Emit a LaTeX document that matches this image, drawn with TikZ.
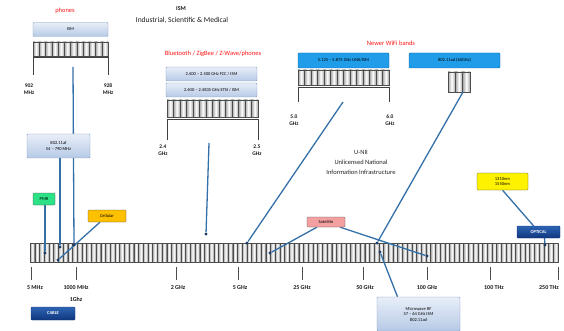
\documentclass[tikz,border=0pt]{standalone}
\usepackage{fontspec}
\setmainfont{Carlito}
\usetikzlibrary{positioning}
\pgfdeclarelayer{bg}
\pgfsetlayers{bg,main}
\definecolor{linkblue}{RGB}{52,112,168}
\definecolor{dotblue}{RGB}{25,60,105}
\definecolor{paletop}{RGB}{232,238,248}
\definecolor{palebot}{RGB}{182,202,230}
\definecolor{paleedge}{RGB}{130,155,195}
\definecolor{wifiblue}{RGB}{32,156,232}
\definecolor{wifiedge}{RGB}{20,105,175}
\definecolor{navytop}{RGB}{45,100,180}
\definecolor{navybot}{RGB}{15,55,125}
\definecolor{pmrgreen}{RGB}{45,225,135}
\definecolor{cellorange}{RGB}{255,192,0}
\definecolor{satpink}{RGB}{245,160,160}
\definecolor{titlered}{RGB}{250,20,20}

\begin{document}
\begin{tikzpicture}[x=1pt, y=-1pt,
	cellbar/.style={draw=gray!60!black, line width=0.4pt, left color=gray!70, right color=gray!70, middle color=white},
	bracket/.style={draw=gray!50!black, line width=0.6pt},
	link/.style={linkblue, line width=1.3pt},
	dot/.style={circle, fill=dotblue, inner sep=0pt, minimum size=3.4pt},
	box/.style={rounded corners=1pt, inner sep=0pt, align=center, font=\fontsize{4.5}{5.5}\selectfont},
	paleband/.style={box, draw=paleedge, top color=paletop, bottom color=palebot},
	wifiband/.style={box, draw=wifiedge, fill=wifiblue},
	navyband/.style={box, draw=navybot, top color=navytop, bottom color=navybot, text=white, font=\fontsize{4.5}{5.5}\selectfont\bfseries},
	flat/.style={box, draw=gray!60!black, line width=0.3pt},
	title/.style={text=titlered, font=\fontsize{6.5}{7}\selectfont},
	edgelabel/.style={align=center, font=\fontsize{5.5}{6.5}\selectfont\bfseries, text=gray!20!black},
	ticklabel/.style={font=\fontsize{6}{7}\selectfont\bfseries, text=gray!20!black},
]
\useasboundingbox (0,0) rectangle (564,331);

% headings
\node[font=\fontsize{6}{7}\selectfont\bfseries, text=gray!20!black] (ismhead) at (181,9) {ISM};
\node[font=\fontsize{7.5}{8}\selectfont, text=gray!20!black] (ismtext) at (182,20) {Industrial, Scientific \& Medical};
\node[title] (phones) at (65,11) {phones};
\node[title] (bttitle) at (213,54) {Bluetooth / ZigBee / Z-Wave/phones};
\node[title] (wifititle) at (391,43) {Newer WiFi bands};
\node[align=center, font=\fontsize{6.5}{10}\selectfont, text=gray!25!black] (unii) at (361,162) {U-NII\\Unlicensed National\\Information Infrastructure};

\begin{pgfonlayer}{bg}
	% main spectrum bar
	\foreach \i in {0,...,111}
		\shade[cellbar] ({30+\i*4.714},243) rectangle ({30+(\i+1)*4.714},262);
	% 902-928 MHz
	\foreach \i in {0,...,11}
		\shade[cellbar] ({33+\i*6.25},42) rectangle ({33+(\i+1)*6.25},56);
	\draw[bracket] (33,75) -- (33,57) -- (108,57) -- (108,75);
	% 2.4-2.5 GHz
	\foreach \i in {0,...,13}
		\shade[cellbar] ({167+\i*6.5},100) rectangle ({167+(\i+1)*6.5},117);
	\draw[bracket] (167,140) -- (167,119) -- (258,119) -- (258,140);
	% 5-6 GHz
	\foreach \i in {0,...,13}
		\shade[cellbar] ({298+\i*6.5},70) rectangle ({298+(\i+1)*6.5},85);
	\draw[bracket] (298,102) -- (298,87) -- (389,87) -- (389,102);
	% 60 GHz
	\foreach \i in {0,...,2}
		\shade[cellbar] ({448+\i*7.33},72) rectangle ({448+(\i+1)*7.33},92);

	% ticks
	\foreach \x in {31,76,176,238,302,363,427,490,558}
		\draw[gray!60!black, line width=0.6pt] (\x,267) -- (\x,280);
\end{pgfonlayer}

% tick labels
\node[ticklabel] (t5m) at (35,288) {5 MHz};
\node[ticklabel] (t1g) at (76,288) {1000 MHz};
\node[ticklabel] (t1gb) at (76,299) {1Ghz};
\node[ticklabel] (t2g) at (178,288) {2 GHz};
\node[ticklabel] (t5g) at (240,288) {5 GHz};
\node[ticklabel] (t25g) at (302,288) {25 GHz};
\node[ticklabel] (t50g) at (365,288) {50 GHz};
\node[ticklabel] (t100g) at (427,288) {100 GHz};
\node[ticklabel] (t100t) at (494,288) {100 THz};
\node[ticklabel] (t250t) at (549,288) {250 THz};

% range edges
\node[edgelabel] (e902) at (29,89) {902\\MHz};
\node[edgelabel] (e928) at (108,89) {928\\MHz};
\node[edgelabel] (e24) at (163,150) {2.4\\GHz};
\node[edgelabel] (e25) at (257,150) {2.5\\GHz};
\node[edgelabel] (e50) at (294,120) {5.0\\GHz};
\node[edgelabel] (e60) at (390,120) {6.0\\GHz};

% boxes
\node[paleband, minimum width=75pt, minimum height=14pt] (ism) at (70.5,29.5) {ISM};
\node[paleband, minimum width=91pt, minimum height=14pt] (btfcc) at (211.5,74) {2.400 -- 2.500 GHz FCC / ISM};
\node[paleband, minimum width=91pt, minimum height=14pt] (btetsi) at (211.5,90) {2.400 -- 2.4835 GHz ETSI / ISM};
\node[wifiband, minimum width=91pt, minimum height=15pt] (unii5) at (343.5,60.5) {5.125 -- 5.875 GHz UNII/ISM};
\node[wifiband, minimum width=91pt, minimum height=15pt] (ad60) at (454.5,60.5) {802.11ad (60GHz)};
\node[paleband, minimum width=63pt, minimum height=24pt] (af) at (58.5,146) {802.11af\\54 -- 790 MHz};
\node[flat, fill=pmrgreen, minimum width=22pt, minimum height=12pt] (pmr) at (44,199) {PMR};
\node[flat, fill=cellorange, minimum width=38pt, minimum height=12pt] (cell) at (107,216) {Cellular};
\node[flat, fill=satpink, minimum width=38pt, minimum height=10pt] (sat) at (326,222) {Satellite};
\node[flat, fill=yellow, minimum width=51pt, minimum height=17pt] (fibre) at (502.5,181.5) {1310nm\\1550nm};
\node[navyband, minimum width=43pt, minimum height=12pt] (optical) at (538.5,232) {OPTICAL};
\node[navyband, minimum width=44pt, minimum height=13pt] (cable) at (53,313.5) {CABLE};
\node[paleband, minimum width=83pt, minimum height=34pt] (mw) at (418.5,314) {Microwave RF\\57 -- 64 GHz ISM\\802.11ad};

% taps and dots
\coordinate (ismtap) at (73,67);
\coordinate (bttap) at (209,143);
\coordinate (wifitap) at (343,102);
\coordinate (adtap) at (463,92);
\node[dot] (dpmr) at (45,253) {};
\node[dot] (dafl) at (60,247) {};
\node[dot] (dism) at (74,245) {};
\node[dot] (dcell) at (58,260) {};
\node[dot] (dbt) at (206,234) {};
\node[dot] (dwifi) at (247,243) {};
\node[dot] (dsatl) at (270,253) {};
\node[dot] (dad) at (377,243) {};
\node[dot] (dmw) at (380,252) {};
\node[dot] (dsatr) at (427,256) {};
\node[dot] (dopt) at (545,245) {};

\begin{pgfonlayer}{bg}
	\draw[link] (ismtap) -- (dism);
	\draw[link] (af.south -| dafl) -- (dafl);
	\draw[link] (pmr.south -| dpmr) -- (dpmr);
	\draw[link] ([xshift=-7pt]cell.south) -- (dcell);
	\draw[link] (bttap) -- (dbt);
	\draw[link] (wifitap) -- (dwifi);
	\draw[link] (adtap) -- (dad);
	\draw[link] ([xshift=-9pt]sat.south) -- (dsatl);
	\draw[link] ([xshift=14pt]sat.south) -- (dsatr);
	\draw[link] ([xshift=-21pt]mw.north) -- (dmw);
	\draw[link] (fibre.south) -- ([xshift=-5pt]optical.north);
	\draw[link] ([xshift=6pt]optical.south) -- (dopt);
\end{pgfonlayer}
\end{tikzpicture}
\end{document}
